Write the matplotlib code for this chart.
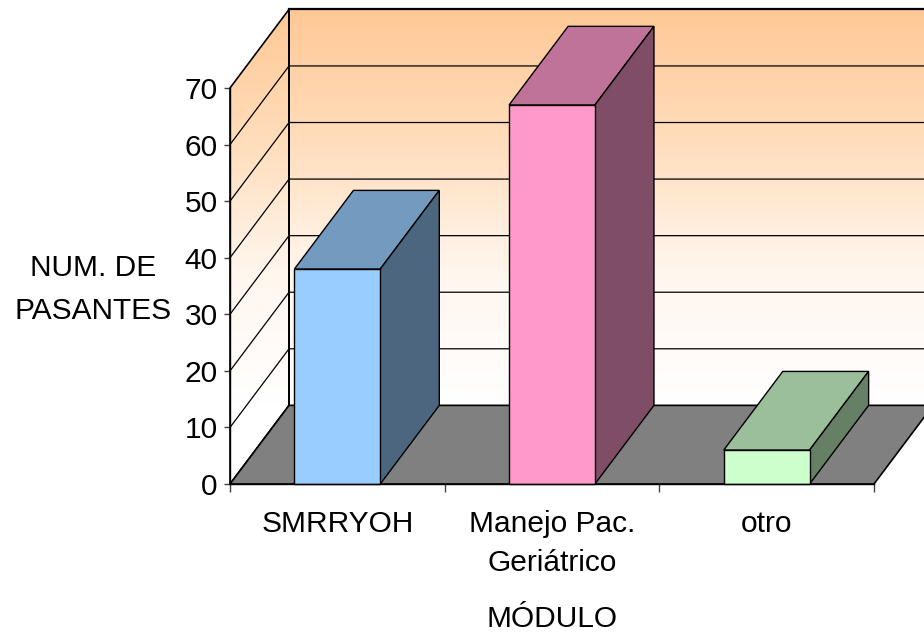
import numpy as np
import matplotlib
matplotlib.use('Agg')
import matplotlib.pyplot as plt
from matplotlib.colors import LinearSegmentedColormap
from matplotlib.patches import Polygon

plt.rcParams['font.family'] = ['Liberation Sans', 'DejaVu Sans']

# -----------------------------
# Data
# -----------------------------
categories = ['SMRRYOH', 'Manejo Pac.\nGeriátrico', 'otro']
values = [38, 67, 6]
y_ticks = [0, 10, 20, 30, 40, 50, 60, 70]
front_colors = ['#99CCFF', '#FF99CC', '#CCFFCC']
top_colors = ['#739ABF', '#BF7399', '#9ABF9A']
side_colors = ['#4D6680', '#804D66', '#668066']

# depth of the 3D box, in axis units
depth_x = 0.275
depth_y = 13.9
bar_width = 0.40

fig = plt.figure(figsize=(9.24, 6.35), dpi=100)
ax = fig.add_axes([230 / 924, (635 - 484) / 635, 644 / 924, 396 / 635])
ax.patch.set_visible(False)
ax.set_xlim(0, 3)
ax.set_ylim(0, 70)

# -----------------------------
# Walls and floor
# -----------------------------
wall_cmap = LinearSegmentedColormap.from_list('wall', ['#FFFFFF', '#FFF6EE', '#FFDDBB', '#FFC896'])
gradient = np.linspace(1, 0, 256).reshape(-1, 1)
# side wall runs lower on screen, keep same colour at same height
side_gradient = np.clip(np.linspace(1, -depth_y / 70, 256), 0, 1).reshape(-1, 1)

back = ax.imshow(gradient, cmap=wall_cmap, aspect='auto', zorder=1, clip_on=False,
                 vmin=0, vmax=1, extent=[depth_x, 3 + depth_x, depth_y, 70 + depth_y])
side = ax.imshow(side_gradient, cmap=wall_cmap, aspect='auto', zorder=1,
                 vmin=0, vmax=1, extent=[0, depth_x, 0, 70 + depth_y])
side_outline = Polygon([(0, 0), (depth_x, depth_y), (depth_x, 70 + depth_y), (0, 70)],
                       closed=True, fc='none', ec='black', lw=1.2, zorder=2, clip_on=False)
ax.add_patch(side_outline)
side.set_clip_box(fig.bbox)
side.set_clip_path(side_outline)
ax.set_xlim(0, 3)
ax.set_ylim(0, 70)

for v in y_ticks[1:-1]:
    ax.plot([0, depth_x, 3 + depth_x], [v, v + depth_y, v + depth_y],
            color='black', lw=0.9, zorder=2, clip_on=False)
ax.plot([depth_x, 3 + depth_x], [70 + depth_y, 70 + depth_y], color='black', lw=1.6, zorder=2, clip_on=False)
ax.plot([depth_x, depth_x], [depth_y, 70 + depth_y], color='black', lw=1.4, zorder=2, clip_on=False)

floor = Polygon([(0, 0), (3, 0), (3 + depth_x, depth_y), (depth_x, depth_y)],
                closed=True, fc='#808080', ec='black', lw=1.2, zorder=3, clip_on=False)
ax.add_patch(floor)

# -----------------------------
# Bars
# -----------------------------
for i, v in enumerate(values):
    x0 = i + 0.5 - bar_width / 2
    x1 = i + 0.5 + bar_width / 2
    faces = [
        ([(x0, v), (x1, v), (x1 + depth_x, v + depth_y), (x0 + depth_x, v + depth_y)], top_colors[i]),
        ([(x1, 0), (x1 + depth_x, depth_y), (x1 + depth_x, v + depth_y), (x1, v)], side_colors[i]),
        ([(x0, 0), (x1, 0), (x1, v), (x0, v)], front_colors[i]),
    ]
    for pts, color in faces:
        ax.add_patch(Polygon(pts, closed=True, fc=color, ec='black', lw=1.0, zorder=4, clip_on=False))

# -----------------------------
# Axes
# -----------------------------
for name in ['top', 'right']:
    ax.spines[name].set_visible(False)
for name in ['left', 'bottom']:
    ax.spines[name].set_linewidth(1.0)
    ax.spines[name].set_zorder(5)

ax.set_yticks(y_ticks)
ax.tick_params(axis='y', direction='out', length=4.5, width=1.0, color='#404040', labelsize=21.5, pad=4.5)
ax.set_xticks([0, 1, 2, 3])
ax.set_xticklabels([])
ax.tick_params(axis='x', which='major', direction='out', length=5.5, width=1.0, color='#404040')
ax.set_xticks([0.5, 1.5, 2.5], minor=True)
ax.set_xticklabels(categories, minor=True, fontsize=21.5, linespacing=1.48)
ax.tick_params(axis='x', which='minor', length=0, pad=19)

ax.set_xlabel('MÓDULO', fontsize=21.5, va='center')
ax.xaxis.set_label_coords(0.5, -0.341)
ax.set_ylabel('NUM. DE\nPASANTES', fontsize=21.5, rotation=0, ha='center', va='center', linespacing=1.68)
ax.yaxis.set_label_coords(-0.213, 0.49)

fig.savefig('out.png', dpi=100, facecolor='white')
